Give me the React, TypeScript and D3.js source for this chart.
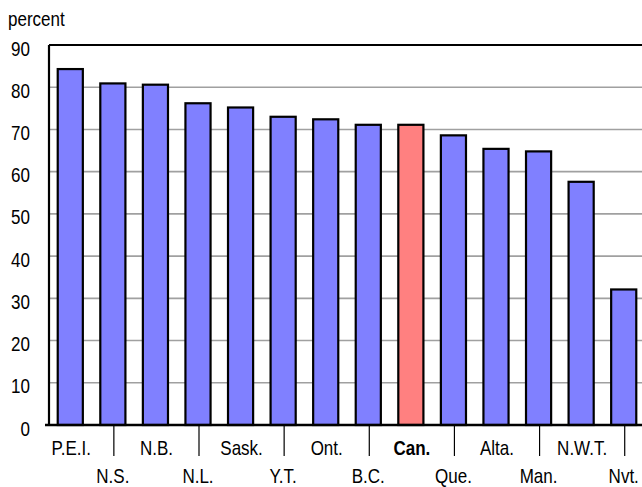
import React from "react";
import * as d3 from "d3";

const categories = ["P.E.I.", "N.S.", "N.B.", "N.L.", "Sask.", "Y.T.", "Ont.", "B.C.", "Can.", "Que.", "Alta.", "Man.", "N.W.T.", "Nvt."];
const values = [84.3, 80.9, 80.6, 76.2, 75.2, 73.0, 72.4, 71.1, 71.1, 68.6, 65.4, 64.8, 57.6, 32.1];
const highlight = ["Can."];
const yTicks = [0, 10, 20, 30, 40, 50, 60, 70, 80, 90];
const yLabel = "percent";

const W = 642;
const H = 487;
const left = 49;
const right = 645;
const top = 45;
const bottom = 425;
const FONT = "'Liberation Sans', Arial, sans-serif";
const SX = 0.83;
const FS = 20.5;

function T(props: { x: number; y: number; anchor?: string; bold?: boolean; children: React.ReactNode }) {
  return (
    <text
      transform={`translate(${props.x},${props.y}) scale(${SX},1)`}
      textAnchor={props.anchor || "start"}
      fontSize={FS}
      fontWeight={props.bold ? "bold" : "normal"}
      fill="#000"
    >
      {props.children}
    </text>
  );
}

export default function App() {
  const x = d3.scaleBand<string>().domain(categories).range([left, right]).paddingInner(0.41).paddingOuter(0.205);
  const y = d3.scaleLinear().domain([0, 90]).range([bottom, top]);
  const centers = categories.map((c) => (x(c) as number) + x.bandwidth() / 2);

  return (
    <svg width={W} height={H} style={{ position: "absolute", left: 0, top: 0, background: "#fff" }} fontFamily={FONT}>
      {yTicks.filter((t) => t > 0 && t < 90).map((t) => (
        <line key={"g" + t} x1={left} x2={W} y1={y(t)} y2={y(t)} stroke="#a0a0a0" strokeWidth={1.6} />
      ))}
      {categories.map((c, i) => (
        <rect
          key={c}
          x={x(c)}
          y={y(values[i])}
          width={x.bandwidth()}
          height={bottom - y(values[i])}
          fill={highlight.includes(c) ? "#ff8080" : "#8080ff"}
          stroke="#000"
          strokeWidth={2.2}
        />
      ))}
      <line x1={left} x2={W} y1={top} y2={top} stroke="#000" strokeWidth={2} />
      <line x1={left} x2={left} y1={top} y2={bottom} stroke="#000" strokeWidth={2.2} />
      <line x1={left - 4} x2={W} y1={bottom} y2={bottom} stroke="#000" strokeWidth={2.5} />
      {yTicks.map((t) => (
        <T key={"y" + t} x={30} y={y(t) + 10.5} anchor="end">
          {t}
        </T>
      ))}
      <T x={8} y={26}>{yLabel}</T>
      {categories.map((c, i) =>
        i % 2 === 1 ? (
          <line key={"s" + c} x1={centers[i] + 1} x2={centers[i] + 1} y1={bottom} y2={456} stroke="#000" strokeWidth={1.2} />
        ) : null
      )}
      {categories.map((c, i) => (
        <T key={"l" + c} x={centers[i] + (i % 2 === 1 ? 0 : 1)} y={i % 2 === 0 ? 455 : 483} anchor="middle" bold={highlight.includes(c)}>
          {c}
        </T>
      ))}
    </svg>
  );
}
